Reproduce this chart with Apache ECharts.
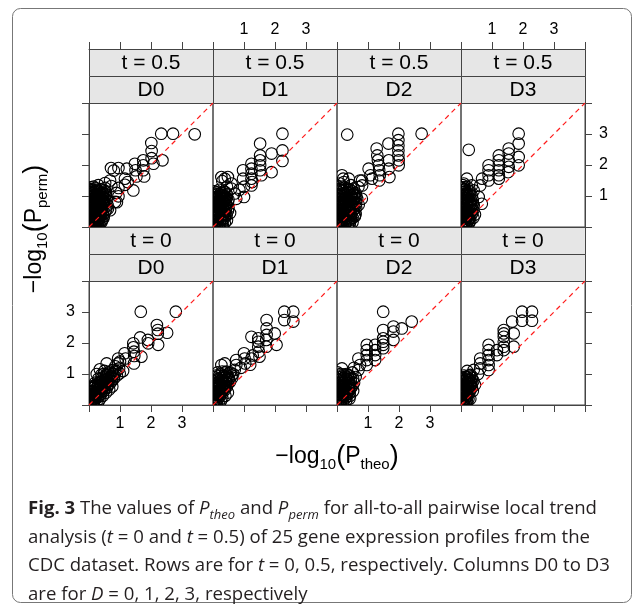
<!DOCTYPE html>
<html>
<head>
<meta charset="utf-8">
<script src="https://cdn.jsdelivr.net/npm/echarts@6/dist/echarts.min.js"></script>
<style>
  html, body { margin: 0; padding: 0; background: #fff; }
  #chart { width: 636px; height: 604px; }
</style>
</head>
<body>
<div id="chart"></div>
<script>
// -log10 values, one array per panel: [P_theo, P_perm]
const t05_D0 = [
  [3.41,2.99],[2.71,3.01],[2.33,3.01],[2.01,2.71],[2.02,2.45],[2.02,2.22],[2.08,2.04],[2.37,2.15],
  [1.75,2.15],[1.75,1.99],[1.75,1.83],[1.78,1.63],[1.48,2.04],[1.5,1.83],[1.53,1.63],[1.22,1.88],
  [0.71,1.9],[0.95,1.9],[0.8,1.82],[1.16,1.56],[1.16,1.36],[1.43,1.18],[1.25,1.45],[0.95,1.26],
  [0.95,0.99],[0.88,1.1],[0.9,0.8],[0.72,1.32],[0.68,1.5],[0.68,0.54],[0.55,1.05],[0.84,0.81],
  [0.52,1.42],[0.52,1.26],[0.3,1.35],[0.15,1.3],[0.05,1.28],[0.4,1.2],[0.25,1.2],[0.1,1.18],
  [0.02,1.12],[0.45,1.1],[0.33,1.08],[0.18,1.05],[0.06,1.0],[0.5,0.95],[0.38,0.92],[0.26,0.95],
  [0.12,0.9],[0.02,0.85],[0.58,0.85],[0.45,0.8],[0.32,0.8],[0.2,0.78],[0.08,0.75],[0.4,0.68],
  [0.28,0.66],[0.15,0.64],[0.03,0.62],[0.5,0.62],[0.36,0.55],[0.22,0.52],[0.1,0.5],[0.02,0.45],
  [0.44,0.45],[0.3,0.42],[0.16,0.4],[0.06,0.35],[0.26,0.3],[0.12,0.28],[0.02,0.25],[0.35,0.28],
  [0.2,0.2],[0.08,0.16],[0.3,0.15],[0.15,0.1],[0.04,0.06],[0.22,0.06],[0.34,0.11],[0.1,0.02],
  [0.6,0.7],[0.48,0.35],[0.61,0.59],[0.46,0.27],
  [0.07,1.22],[0.22,1.25],[0.36,1.22],[0.48,1.18],[0.14,1.12],[0.28,1.14],[0.4,1.05],[0.55,1.12],
  [0.04,1.05],[0.22,1.0],[0.32,0.98],[0.45,0.95],[0.1,0.96],[0.16,0.85],[0.26,0.86],[0.4,0.85],
  [0.52,0.78],[0.05,0.8],[0.12,0.7],[0.24,0.72],[0.35,0.7],[0.47,0.7],[0.07,0.6],[0.2,0.6],
  [0.3,0.58],[0.42,0.58],[0.55,0.55],[0.05,0.52],[0.16,0.48],[0.27,0.48],[0.38,0.48],[0.5,0.45],
  [0.1,0.42],[0.22,0.38],[0.34,0.36],[0.04,0.3],[0.17,0.3],[0.3,0.25],[0.42,0.22],[0.1,0.22],
  [0.24,0.15],[0.05,0.12],[0.15,0.05],[0.28,0.05],[0.4,0.15],[0.2,0.12],
  [0.03,1.18],[0.18,1.15],[0.33,1.15],[0.46,1.02],[0.1,1.08],[0.26,1.05],[0.38,0.98],[0.03,0.92],
  [0.18,0.92],[0.3,0.9],[0.42,0.88],[0.1,0.84],[0.23,0.82],[0.36,0.76],[0.48,0.82],[0.04,0.7],
  [0.18,0.7],[0.3,0.72],[0.43,0.62],[0.1,0.62],[0.25,0.6],[0.36,0.62],[0.04,0.55],[0.14,0.55],
  [0.28,0.52],[0.4,0.5],[0.08,0.45],[0.2,0.45],[0.33,0.45],[0.02,0.38],[0.13,0.35],[0.26,0.38],
  [0.38,0.38],[0.08,0.28],[0.2,0.27],[0.32,0.2],[0.04,0.2],[0.14,0.16],[0.25,0.22],[0.1,0.1]
];
const t05_D1 = [
  [2.24,3.01],[2.24,2.47],[2.24,2.13],[1.89,2.37],[1.89,1.77],[1.52,2.69],[1.52,2.31],[1.52,2.15],
  [1.52,1.99],[1.52,1.83],[1.56,1.67],[1.24,2.04],[1.24,1.88],[1.24,1.72],[1.24,1.56],[1.26,1.45],
  [1.24,1.34],[0.97,1.83],[0.97,1.56],[1.0,0.97],[1.0,1.3],
  [0.27,1.61],[0.38,1.56],[0.48,1.61],[0.3,1.48],[0.59,1.24],[0.7,1.08],[0.75,0.91],[0.6,1.4],
  [0.85,1.2],[0.45,1.3],
  [0.05,1.15],[0.2,1.2],[0.35,1.15],[0.1,1.05],[0.28,1.02],[0.45,1.05],[0.02,0.95],[0.16,0.92],
  [0.36,0.9],[0.5,0.88],[0.08,0.82],[0.25,0.8],[0.42,0.75],[0.02,0.7],[0.15,0.68],[0.32,0.66],
  [0.5,0.62],[0.06,0.58],[0.22,0.55],[0.4,0.5],[0.02,0.45],[0.12,0.42],[0.3,0.4],[0.06,0.32],
  [0.2,0.28],[0.38,0.3],[0.02,0.2],[0.12,0.18],[0.28,0.16],[0.05,0.08],[0.18,0.06],[0.32,0.05],
  [0.1,0.01],[0.55,0.45],[0.45,0.22],
  [0.12,1.12],[0.26,1.1],[0.4,1.12],[0.05,1.02],[0.2,1.0],[0.35,1.0],[0.12,0.96],[0.28,0.9],
  [0.44,0.95],[0.05,0.88],[0.18,0.85],[0.34,0.8],[0.48,0.78],[0.1,0.74],[0.22,0.7],[0.38,0.68],
  [0.05,0.65],[0.26,0.62],[0.42,0.6],[0.12,0.55],[0.3,0.52],[0.48,0.52],[0.06,0.48],[0.2,0.45],
  [0.36,0.42],[0.1,0.36],[0.26,0.35],[0.44,0.38],[0.04,0.28],[0.16,0.25],[0.32,0.25],[0.08,0.14],
  [0.22,0.12],[0.38,0.14],[0.14,0.02],
  [0.08,1.08],[0.22,1.06],[0.32,1.08],[0.15,0.98],[0.3,0.95],[0.42,0.9],[0.1,0.9],[0.22,0.88],
  [0.38,0.84],[0.03,0.8],[0.14,0.78],[0.3,0.75],[0.45,0.68],[0.08,0.68],[0.2,0.62],[0.35,0.6],
  [0.02,0.58],[0.15,0.5],[0.25,0.48],[0.4,0.42],[0.06,0.42],[0.18,0.38],[0.32,0.34],[0.1,0.25],
  [0.24,0.22],[0.02,0.35],[0.14,0.1],[0.28,0.08],[0.05,0.15]
];
const t05_D2 = [
  [0.33,2.98],[1.98,3.01],[1.98,2.8],[1.98,2.63],[1.98,2.47],[1.98,2.31],[1.99,2.15],[1.99,1.99],
  [2.73,3.01],[1.66,2.69],[1.67,2.15],[1.67,1.88],[1.69,1.61],[1.28,2.53],[1.3,2.31],[1.32,2.15],
  [1.35,1.99],[1.36,1.83],[1.38,1.67],[1.36,1.5],[1.02,1.88],[1.08,1.67],[1.13,1.56],
  [0.81,1.5],[0.81,1.34],[0.74,1.5],[0.69,1.29],[0.8,0.91],[0.54,1.24],[0.16,1.67],[0.38,1.56],
  [0.22,1.45],[0.2,1.56],[0.1,1.4],[0.45,1.35],[0.6,1.1],
  [0.05,1.3],[0.25,1.28],[0.4,1.22],[0.12,1.18],[0.32,1.12],[0.55,1.05],[0.02,1.05],[0.2,1.0],
  [0.45,0.98],[0.65,0.9],[0.1,0.9],[0.35,0.85],[0.55,0.8],[0.02,0.78],[0.22,0.75],[0.45,0.7],
  [0.7,0.72],[0.12,0.62],[0.32,0.6],[0.55,0.58],[0.02,0.52],[0.2,0.48],[0.42,0.45],[0.6,0.42],
  [0.08,0.38],[0.3,0.35],[0.5,0.3],[0.02,0.26],[0.18,0.22],[0.38,0.2],[0.06,0.12],[0.25,0.1],
  [0.12,0.03],[0.4,0.06],[0.5,0.15],
  [0.15,1.25],[0.32,1.25],[0.5,1.15],[0.08,1.12],[0.24,1.1],[0.4,1.08],[0.62,1.0],[0.12,1.02],
  [0.3,0.95],[0.5,0.9],[0.05,0.92],[0.2,0.88],[0.42,0.82],[0.62,0.78],[0.1,0.8],[0.3,0.72],
  [0.5,0.7],[0.06,0.68],[0.2,0.65],[0.4,0.6],[0.62,0.62],[0.1,0.55],[0.28,0.5],[0.5,0.5],
  [0.05,0.45],[0.15,0.4],[0.38,0.38],[0.58,0.35],[0.1,0.3],[0.25,0.25],[0.45,0.25],[0.05,0.18],
  [0.3,0.15],[0.15,0.12],[0.2,0.02],[0.35,0.08],
  [0.08,1.22],[0.2,1.18],[0.35,1.18],[0.48,1.1],[0.15,1.08],[0.3,1.05],[0.45,1.02],[0.58,0.95],
  [0.06,1.0],[0.25,0.92],[0.4,0.9],[0.55,0.88],[0.15,0.82],[0.3,0.8],[0.48,0.76],[0.6,0.7],
  [0.05,0.72],[0.16,0.72],[0.38,0.66],[0.52,0.64],[0.25,0.6],[0.45,0.55],[0.08,0.58],[0.18,0.55],
  [0.35,0.48],[0.55,0.45],[0.1,0.46],[0.25,0.42],[0.45,0.38],[0.18,0.32],[0.35,0.3],[0.04,0.32],
  [0.12,0.2],[0.28,0.2],[0.42,0.15],[0.08,0.06],[0.25,0.04]
];
const t05_D3 = [
  [0.25,2.49],[1.86,3.01],[1.86,2.69],[1.86,2.26],[1.86,1.99],[1.54,2.53],[1.54,2.37],[1.54,2.15],
  [1.54,1.94],[1.52,1.77],[1.22,2.31],[1.22,2.15],[1.22,1.99],[1.22,1.83],[1.22,1.67],[1.22,1.56],
  [0.89,1.99],[0.89,1.83],[0.89,1.67],[0.89,1.5],[0.68,1.56],[0.62,1.34],[0.35,1.34],[0.41,1.18],
  [0.19,1.56],[0.09,1.4],[0.67,0.75],[0.57,0.97],[0.41,0.7],
  [0.02,1.28],[0.12,1.22],[0.05,1.12],[0.2,1.1],[0.3,1.05],[0.02,1.0],[0.12,0.95],[0.25,0.9],
  [0.38,0.88],[0.05,0.85],[0.18,0.8],[0.3,0.75],[0.02,0.7],[0.12,0.66],[0.24,0.62],[0.4,0.55],
  [0.05,0.55],[0.16,0.5],[0.3,0.45],[0.02,0.4],[0.1,0.36],[0.22,0.32],[0.05,0.25],[0.15,0.2],
  [0.02,0.12],[0.1,0.08],[0.2,0.05],[0.05,0.02],[0.3,0.2],[0.45,0.4],
  [0.06,1.35],[0.2,1.3],[0.08,1.2],[0.25,1.18],[0.15,1.05],[0.35,1.0],[0.06,0.95],[0.2,0.95],
  [0.32,0.88],[0.1,0.85],[0.24,0.78],[0.38,0.75],[0.06,0.75],[0.18,0.7],[0.3,0.62],[0.08,0.6],
  [0.2,0.56],[0.35,0.52],[0.1,0.46],[0.24,0.44],[0.05,0.35],[0.16,0.3],[0.3,0.3],[0.08,0.2],
  [0.22,0.18],[0.12,0.12],[0.02,0.05],[0.15,0.02],[0.26,0.12],[0.4,0.3],
  [0.1,1.28],[0.02,1.18],[0.15,1.14],[0.28,1.12],[0.08,1.05],[0.22,1.02],[0.02,0.9],[0.15,0.88],
  [0.28,0.82],[0.05,0.78],[0.2,0.75],[0.34,0.68],[0.1,0.72],[0.02,0.62],[0.15,0.6],[0.27,0.55],
  [0.06,0.48],[0.2,0.48],[0.36,0.44],[0.14,0.42],[0.02,0.32],[0.12,0.28],[0.25,0.25],[0.06,0.15],
  [0.18,0.12],[0.1,0.02]
];
const t0_D0 = [
  [1.67,3.01],[2.8,3.01],[2.19,2.58],[2.22,2.42],[2.22,2.3],[2.52,2.33],[2.23,1.94],[1.9,2.1],
  [1.91,1.99],[1.65,2.18],[1.43,1.99],[1.43,1.86],[1.45,1.72],[1.46,1.58],[1.69,1.56],[1.15,1.67],
  [1.18,1.5],[1.0,1.4],[1.45,1.34],[0.94,1.5],[0.94,1.34],[0.97,1.18],[0.99,1.02],[0.57,1.34],
  [0.77,1.13],[0.72,0.91],[1.1,1.1],[0.85,1.25],
  [0.02,0.05],[0.08,0.1],[0.12,0.2],[0.05,0.25],[0.18,0.15],[0.22,0.3],[0.1,0.35],[0.28,0.25],
  [0.3,0.42],[0.15,0.45],[0.05,0.45],[0.38,0.35],[0.4,0.52],[0.25,0.55],[0.1,0.6],[0.48,0.45],
  [0.5,0.62],[0.35,0.65],[0.2,0.72],[0.58,0.55],[0.6,0.75],[0.45,0.78],[0.3,0.85],[0.68,0.7],
  [0.7,0.88],[0.55,0.92],[0.4,0.98],[0.8,0.85],[0.78,1.0],[0.62,1.05],[0.85,1.05],[0.5,1.1],
  [0.35,1.15],[0.25,1.0],[0.02,0.3],[0.15,0.02],[0.3,0.1],[0.45,0.3],[0.65,0.5],[0.9,0.95],
  [0.05,0.12],[0.12,0.08],[0.1,0.25],[0.2,0.22],[0.16,0.35],[0.26,0.38],[0.34,0.3],[0.2,0.5],
  [0.32,0.52],[0.42,0.45],[0.14,0.55],[0.28,0.62],[0.4,0.65],[0.52,0.55],[0.22,0.65],[0.35,0.75],
  [0.5,0.72],[0.62,0.65],[0.42,0.88],[0.55,0.82],[0.66,0.8],[0.74,0.78],[0.48,1.0],[0.6,0.98],
  [0.72,0.95],[0.68,1.08],[0.08,0.42],[0.02,0.18],[0.24,0.08],[0.36,0.2],[0.55,0.4],[0.75,0.6],
  [0.82,0.95],[0.88,1.1],
  [0.06,0.18],[0.14,0.28],[0.22,0.4],[0.3,0.5],[0.38,0.58],[0.46,0.68],[0.54,0.75],[0.64,0.88],
  [0.1,0.14],[0.18,0.28],[0.26,0.32],[0.36,0.45],[0.44,0.55],[0.52,0.65],[0.6,0.82],[0.3,0.7],
  [0.16,0.6],[0.42,0.75],[0.56,0.98]
];
const t0_D1 = [
  [2.3,3.01],[2.59,3.01],[2.3,2.74],[2.59,2.69],[1.73,2.74],[1.73,2.47],[1.73,2.26],[1.99,2.31],
  [2.05,1.94],[1.24,2.2],[1.46,2.15],[1.46,2.04],[1.46,1.88],[1.48,1.72],[1.5,1.56],[1.72,2.1],
  [1.72,1.88],[1.0,1.67],[1.02,1.5],[1.04,1.34],[1.24,1.5],[1.28,1.6],[0.75,1.45],[0.75,1.29],
  [0.7,1.13],[0.38,1.34],[0.27,1.29],[0.43,1.08],[1.2,1.3],[0.9,1.2],
  [0.02,0.05],[0.08,0.12],[0.05,0.25],[0.15,0.18],[0.12,0.35],[0.22,0.28],[0.02,0.4],[0.2,0.45],
  [0.3,0.38],[0.1,0.52],[0.28,0.55],[0.38,0.48],[0.05,0.62],[0.18,0.65],[0.35,0.68],[0.45,0.6],
  [0.12,0.78],[0.25,0.8],[0.42,0.82],[0.55,0.75],[0.05,0.9],[0.2,0.95],[0.35,0.95],[0.5,0.92],
  [0.62,0.88],[0.15,1.05],[0.3,1.08],[0.55,1.05],[0.25,0.12],[0.4,0.3],[0.12,0.02],
  [0.05,0.15],[0.12,0.25],[0.06,0.35],[0.18,0.32],[0.26,0.42],[0.12,0.45],[0.32,0.5],[0.2,0.55],
  [0.08,0.55],[0.25,0.68],[0.42,0.7],[0.12,0.68],[0.3,0.75],[0.5,0.82],[0.18,0.85],[0.32,0.88],
  [0.45,0.95],[0.6,0.95],[0.1,0.95],[0.25,1.0],[0.4,1.05],[0.48,0.68],[0.35,0.58],[0.18,0.08],
  [0.3,0.22],[0.48,0.4],[0.02,0.25],[0.65,1.0],[0.05,0.75],
  [0.06,0.2],[0.14,0.3],[0.22,0.38],[0.3,0.45],[0.38,0.58],[0.46,0.72],[0.52,0.85],[0.1,0.42],
  [0.2,0.62],[0.3,0.62],[0.4,0.9],[0.16,0.72],[0.26,0.88],[0.1,0.1]
];
const t0_D2 = [
  [1.49,3.01],[2.41,2.69],[2.09,2.47],[1.82,2.53],[1.82,2.37],[1.49,2.42],[1.82,2.1],[1.49,2.15],
  [1.49,2.04],[1.49,1.94],[1.49,1.83],[1.23,1.94],[1.23,1.77],[1.23,1.61],[1.23,1.45],[0.96,1.94],
  [0.96,1.77],[0.96,1.61],[0.96,1.45],[0.96,1.29],[0.69,1.5],[0.74,1.29],[0.69,1.13],
  [0.5,1.05],[0.4,0.95],[0.16,1.18],[0.55,1.2],[0.3,1.0],
  [0.02,0.05],[0.1,0.08],[0.05,0.2],[0.18,0.2],[0.02,0.35],[0.12,0.32],[0.25,0.3],[0.08,0.45],
  [0.2,0.45],[0.35,0.42],[0.02,0.55],[0.15,0.58],[0.3,0.58],[0.45,0.55],[0.08,0.7],[0.22,0.72],
  [0.38,0.7],[0.55,0.72],[0.02,0.82],[0.15,0.85],[0.3,0.85],[0.45,0.85],[0.1,0.95],[0.22,0.98],
  [0.02,1.05],[0.3,0.15],[0.2,0.05],[0.42,0.3],[0.6,0.9],
  [0.06,0.12],[0.14,0.15],[0.08,0.28],[0.2,0.3],[0.3,0.25],[0.06,0.38],[0.16,0.4],[0.28,0.45],
  [0.4,0.38],[0.1,0.52],[0.22,0.52],[0.38,0.52],[0.05,0.62],[0.2,0.65],[0.35,0.62],[0.5,0.62],
  [0.12,0.75],[0.3,0.72],[0.45,0.75],[0.06,0.9],[0.22,0.88],[0.38,0.85],[0.52,0.85],[0.12,1.0],
  [0.35,0.98],[0.25,0.2],[0.12,0.02],[0.4,0.2],[0.52,0.45],
  [0.06,0.25],[0.14,0.25],[0.22,0.38],[0.32,0.35],[0.12,0.5],[0.26,0.52],[0.42,0.48],[0.08,0.6],
  [0.28,0.65],[0.42,0.65],[0.18,0.78],[0.36,0.78],[0.08,0.08],[0.28,0.92]
];
const t0_D3 = [
  [1.97,3.01],[2.29,3.01],[1.97,2.72],[2.29,2.72],[1.65,2.69],[1.38,2.42],[1.38,2.31],[1.38,2.2],
  [1.38,2.04],[1.38,1.88],[1.38,1.77],[1.7,2.31],[1.7,1.88],[0.89,1.94],[0.89,1.77],[0.89,1.61],
  [0.89,1.45],[0.89,1.29],[0.89,1.13],[1.16,1.77],[1.16,1.61],[0.62,1.5],[0.62,1.34],[0.62,1.18],
  [0.41,1.13],[0.3,0.97],[0.2,1.1],[0.14,0.91],[0.55,1.0],
  [0.02,0.05],[0.08,0.12],[0.04,0.22],[0.15,0.2],[0.02,0.32],[0.1,0.32],[0.22,0.3],[0.05,0.42],
  [0.16,0.44],[0.28,0.42],[0.02,0.52],[0.1,0.55],[0.22,0.55],[0.35,0.55],[0.05,0.65],[0.16,0.66],
  [0.3,0.68],[0.02,0.75],[0.12,0.78],[0.25,0.8],[0.4,0.78],[0.06,0.88],[0.2,0.9],[0.35,0.88],
  [0.1,0.02],[0.2,0.08],[0.3,0.2],[0.45,0.65],
  [0.05,0.12],[0.12,0.18],[0.06,0.3],[0.18,0.28],[0.1,0.4],[0.24,0.38],[0.02,0.45],[0.16,0.5],
  [0.28,0.5],[0.06,0.58],[0.2,0.62],[0.32,0.62],[0.1,0.7],[0.24,0.7],[0.36,0.7],[0.05,0.82],
  [0.16,0.82],[0.3,0.82],[0.1,0.95],[0.26,0.95],[0.14,0.1],[0.24,0.2],[0.38,0.45],[0.02,0.65],
  [0.08,0.25],[0.16,0.35],[0.05,0.35],[0.24,0.45],[0.12,0.48],[0.28,0.6],[0.14,0.6],[0.08,0.76],
  [0.2,0.75],[0.32,0.75],[0.14,0.9],[0.3,0.92],[0.06,0.08],[0.18,0.15]
];

const panels = [t05_D0, t05_D1, t05_D2, t05_D3, t0_D0, t0_D1, t0_D2, t0_D3];
const rowLabels = ['t = 0.5', 't = 0'];
const colLabels = ['D0', 'D1', 'D2', 'D3'];
const tickLabels = ['', '1', '2', '3', ''];
const diag = [[0, 0], [4, 4]];

// layout
const COL_LEFT = [89, 213, 337, 461];
const ROW_TOP = [103, 281];
const PANEL_W = 124;
const PANEL_H = 124;
const STRIP_H = 27;
const LINE = '#444';
const RED = '#ff1a1a';
const FONT = '"Liberation Sans", Arial, sans-serif';
const CAP_FONT = '"Open Sans", sans-serif';
const CAP_COLOR = '#231f20';
const CAP_SIZE = 18.6;

function tickFmt(v) {
  return tickLabels[Math.round(v)] || '';
}

function renderCircle(params, api) {
  var p = api.coord([api.value(0), api.value(1)]);
  return {
    type: 'circle',
    shape: { cx: p[0], cy: p[1], r: 5.8 },
    style: { fill: 'none', stroke: '#000', lineWidth: 1.1 }
  };
}

function buildOption() {
  var grid = [], xAxis = [], yAxis = [], series = [], graphic = [];

  for (var r = 0; r < 2; r++) {
    for (var c = 0; c < 4; c++) {
      var i = r * 4 + c;
      grid.push({
        left: COL_LEFT[c], top: ROW_TOP[r], width: PANEL_W, height: PANEL_H,
        show: true, borderColor: LINE, borderWidth: 1
      });
      xAxis.push({
        type: 'value', gridIndex: i, min: 0, max: 4, interval: 1,
        position: r === 0 ? 'top' : 'bottom',
        offset: r === 0 ? STRIP_H * 2 : 0,
        axisLine: { show: true, onZero: false, lineStyle: { color: LINE, width: 1 } },
        axisTick: { show: true, inside: false, length: 7, lineStyle: { color: LINE } },
        axisLabel: {
          show: r === 0 ? c % 2 === 1 : c % 2 === 0,
          margin: 11, formatter: tickFmt,
          color: '#000', fontSize: 16, fontFamily: FONT
        },
        splitLine: { show: false }
      });
      yAxis.push({
        type: 'value', gridIndex: i, min: 0, max: 4, interval: 1,
        show: c === 0 || c === 3,
        position: c === 3 ? 'right' : 'left',
        axisLine: { show: true, onZero: false, lineStyle: { color: LINE, width: 1 } },
        axisTick: { show: true, inside: false, length: 7, lineStyle: { color: LINE } },
        axisLabel: {
          show: (r === 0 && c === 3) || (r === 1 && c === 0),
          margin: 14, formatter: tickFmt,
          color: '#000', fontSize: 16, fontFamily: FONT
        },
        splitLine: { show: false }
      });
      series.push({
        type: 'custom', xAxisIndex: i, yAxisIndex: i,
        data: panels[i], encode: { x: 0, y: 1 },
        renderItem: renderCircle, clip: true, silent: true, z: 2
      });
      series.push({
        type: 'line', xAxisIndex: i, yAxisIndex: i, data: diag,
        symbol: 'none', silent: true, clip: true, z: 5, color: RED,
        itemStyle: { color: RED },
        lineStyle: { color: RED, width: 1.2, type: [5, 4], opacity: 1 }
      });

      // strips: t on top, D below
      var sTop = ROW_TOP[r] - STRIP_H * 2;
      var labels = [rowLabels[r], colLabels[c]];
      for (var k = 0; k < 2; k++) {
        graphic.push({
          type: 'rect', silent: true,
          shape: { x: COL_LEFT[c] + 0.5, y: sTop + k * STRIP_H + 0.5, width: PANEL_W, height: STRIP_H },
          style: { fill: '#e6e6e6', stroke: LINE, lineWidth: 1 }
        });
        graphic.push({
          type: 'text', silent: true, z: 10,
          x: COL_LEFT[c] + PANEL_W / 2, y: sTop + k * STRIP_H + STRIP_H / 2 + 1,
          style: {
            text: labels[k], fill: '#000', fontSize: 21, fontFamily: FONT,
            align: 'center', verticalAlign: 'middle'
          }
        });
      }
    }
  }

  var titleRich = {
    m: { fontSize: 23, fontFamily: FONT, lineHeight: 30, fill: '#000' },
    p: { fontSize: 27, fontFamily: FONT, lineHeight: 30, fill: '#000' },
    s: { fontSize: 15, fontFamily: FONT, lineHeight: 15, verticalAlign: 'bottom', fill: '#000' }
  };
  graphic.push({
    type: 'text', silent: true,
    x: (COL_LEFT[0] + COL_LEFT[3] + PANEL_W) / 2, y: 457,
    style: { text: '{m|\u2212log}{s|10}{p|(}{m|P}{s|theo}{p|)}', rich: titleRich, align: 'center', verticalAlign: 'middle' }
  });
  graphic.push({
    type: 'text', silent: true, rotation: Math.PI / 2,
    x: 35, y: 229,
    style: { text: '{m|\u2212log}{s|10}{p|(}{m|P}{s|perm}{p|)}', rich: titleRich, align: 'center', verticalAlign: 'middle' }
  });

  // figure frame and caption
  graphic.push({
    type: 'rect', silent: true,
    shape: { x: 12.5, y: 8.5, width: 619, height: 594, r: 8 },
    style: { fill: 'none', stroke: '#777', lineWidth: 1 }
  });
  var capRich = {
    b: { fontSize: CAP_SIZE, fontFamily: CAP_FONT, fontWeight: 'bold', lineHeight: 26, fill: CAP_COLOR },
    i: { fontSize: CAP_SIZE, fontFamily: CAP_FONT, fontStyle: 'italic', lineHeight: 26, fill: CAP_COLOR },
    is: { fontSize: 13, fontFamily: CAP_FONT, fontStyle: 'italic', lineHeight: 13, verticalAlign: 'bottom', fill: CAP_COLOR }
  };
  var capLines = [
    '{b|Fig. 3} The values of {i|P}{is|theo} and {i|P}{is|perm} for all-to-all pairwise local trend',
    'analysis ({i|t} = 0 and {i|t} = 0.5) of 25 gene expression profiles from the',
    'CDC dataset. Rows are for {i|t} = 0, 0.5, respectively. Columns D0 to D3',
    'are for {i|D} = 0, 1, 2, 3, respectively'
  ];
  capLines.forEach(function(line, k) {
    graphic.push({
      type: 'text', silent: true,
      x: 28, y: 509 + k * 28.5,
      style: {
        text: line, rich: capRich, fontSize: CAP_SIZE, fontFamily: CAP_FONT, lineHeight: 26,
        fill: CAP_COLOR, align: 'left', verticalAlign: 'middle'
      }
    });
  });

  return {
    animation: false,
    backgroundColor: '#fff',
    grid: grid, xAxis: xAxis, yAxis: yAxis, series: series, graphic: graphic
  };
}

const chart = echarts.init(document.getElementById('chart'), null, { renderer: 'canvas' });
chart.setOption(buildOption());
</script>
</body>
</html>
